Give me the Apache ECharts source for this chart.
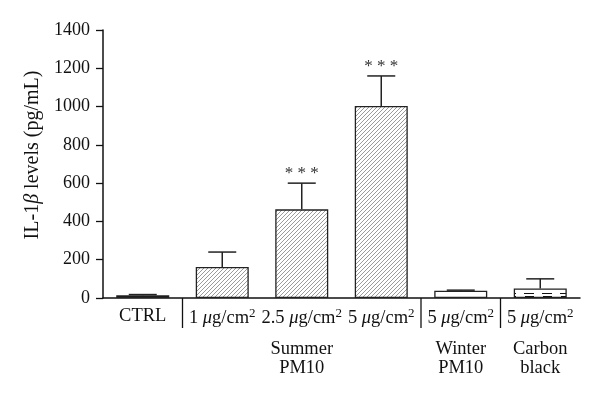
<!DOCTYPE html>
<html><head><meta charset="utf-8">
<script src="https://cdn.jsdelivr.net/npm/echarts@6/dist/echarts.min.js"></script>
<style>html,body{margin:0;padding:0;background:#fff}#c{width:600px;height:403px}</style>
</head><body><div id="c"></div>
<script>
// ---- data ----
var categories = ['CTRL', '1', '2.5', '5', '5', '5'];
var doseUnits = ['', 'μg/cm', 'μg/cm', 'μg/cm', 'μg/cm', 'μg/cm'];
var groupLabels = ['', '', 'Summer\nPM10', '', 'Winter\nPM10', 'Carbon\nblack'];
var means = [14, 162, 463, 1003, 38, 50];
var errors = [4, 78, 137, 157, 3, 50];
var signif = ['', '', '***', '***', '', ''];
var yTicks = { min: 0, max: 1400, interval: 200 };
var separatorBefore = [1, 4, 5]; // group separators drawn before these categories

function hatch() {
  var c = document.createElement('canvas'); c.width = 4; c.height = 4;
  var x = c.getContext('2d');
  x.fillStyle = '#fff'; x.fillRect(0, 0, 4, 4);
  x.strokeStyle = '#7a7a7a'; x.lineWidth = 0.75;
  x.beginPath();
  x.moveTo(0, 4); x.lineTo(4, 0);
  x.moveTo(-1, 1); x.lineTo(1, -1);
  x.moveTo(3, 5); x.lineTo(5, 3);
  x.stroke();
  return c;
}
function carbon() {
  var c = document.createElement('canvas'); c.width = 18; c.height = 10;
  var x = c.getContext('2d');
  x.fillStyle = '#fff'; x.fillRect(0, 0, 18, 10);
  x.fillStyle = '#111';
  x.fillRect(2, 3, 10, 1);
  x.fillRect(3, 6, 9, 3);
  return c;
}
var hatchPat = { image: hatch(), repeat: 'repeat' };
var carbonPat = { image: carbon(), repeat: 'repeat' };
var fills = ['#111', hatchPat, hatchPat, hatchPat, '#fff', carbonPat];

var serif = '"Liberation Serif", "DejaVu Serif", serif';
var FS = 18.5;
var chart = echarts.init(document.getElementById('c'), null, { renderer: 'canvas' });

var barData = means.map(function (v, i) {
  return { value: v, itemStyle: { color: fills[i], borderColor: '#222', borderWidth: 1.3 } };
});
var errData = means.map(function (v, i) { return [i, v, v + errors[i]]; });
var sepData = separatorBefore.map(function (i) { return [i, 0]; });

chart.setOption({
  animation: false,
  grid: { left: 103, right: 20, top: 30, bottom: 105 },
  xAxis: [{
    type: 'category', data: categories, position: 'bottom',
    axisLine: { lineStyle: { color: '#111', width: 1.5 } },
    axisTick: { show: false },
    axisLabel: {
      margin: 9, color: '#111', fontFamily: serif, fontSize: FS, interval: 0,
      formatter: function (v, i) {
        if (!doseUnits[i]) return '{t|' + v + '}';
        return '{t|' + v + ' }{i|μ}{t|g/cm}{s|2}';
      },
      rich: {
        t: { fontFamily: serif, fontSize: FS, color: '#111' },
        i: { fontFamily: serif, fontSize: FS, fontStyle: 'italic', color: '#111' },
        s: { fontFamily: serif, fontSize: 13, color: '#111', padding: [0, 0, 10, 0] }
      }
    }
  }, {
    type: 'category', data: categories, position: 'bottom', offset: 34,
    axisLine: { show: false }, axisTick: { show: false },
    axisLabel: {
      interval: 0, color: '#111', fontFamily: serif, fontSize: FS, lineHeight: 19,
      formatter: function (v, i) { return groupLabels[i]; }
    }
  }],
  yAxis: {
    type: 'value', min: yTicks.min, max: yTicks.max, interval: yTicks.interval,
    splitLine: { show: false },
    axisLine: { show: true, lineStyle: { color: '#111', width: 1.5 } },
    axisTick: { show: true, length: 7, lineStyle: { color: '#111', width: 1.3 } },
    axisLabel: { color: '#111', fontFamily: serif, fontSize: 18, margin: 13, formatter: function (v) { return String(v); } },
    name: '{t|IL-1}{i|β}{t| levels (pg/mL)}',
    nameLocation: 'middle', nameGap: 60, nameRotate: 90,
    nameTextStyle: {
      padding: [0, 0, 0, 18],
      rich: {
        t: { fontFamily: serif, fontSize: 20, color: '#111' },
        i: { fontFamily: serif, fontSize: 20, fontStyle: 'italic', color: '#111' }
      }
    }
  },
  series: [{
    type: 'bar', data: barData, barWidth: 53, z: 2
  }, {
    type: 'custom', data: errData, z: 3,
    renderItem: function (params, api) {
      var i = api.value(0);
      var lo = api.coord([i, api.value(1)]);
      var hi = api.coord([i, api.value(2)]);
      var cap = 14;
      var kids = [
        { type: 'line', shape: { x1: lo[0], y1: lo[1], x2: hi[0], y2: hi[1] }, style: { stroke: '#222', lineWidth: 1.5 } },
        { type: 'line', shape: { x1: hi[0] - cap, y1: hi[1], x2: hi[0] + cap, y2: hi[1] }, style: { stroke: '#222', lineWidth: 1.5 } }
      ];
      var s = signif[params.dataIndex];
      if (s) {
        kids.push({ type: 'text', style: { text: s.split('').join(' '), x: hi[0], y: hi[1] - 1, align: 'center', verticalAlign: 'bottom', font: '17px ' + serif, fill: '#333' } });
      }
      return { type: 'group', children: kids };
    }
  }, {
    type: 'custom', data: sepData, z: 3, clip: false,
    renderItem: function (params, api) {
      var c = api.coord([api.value(0), api.value(1)]);
      var x = c[0] - api.size([1, 0])[0] / 2;
      return { type: 'line', shape: { x1: x, y1: c[1], x2: x, y2: c[1] + 30 }, style: { stroke: '#111', lineWidth: 1.3 } };
    }
  }]
});
</script></body></html>
